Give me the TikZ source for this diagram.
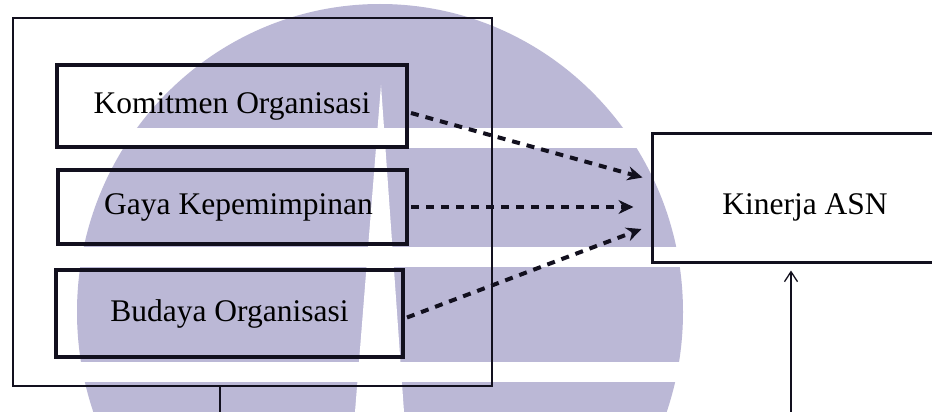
\documentclass[tikz,border=0pt]{standalone}
\usepackage{fontspec}
\setmainfont{Liberation Serif}
\usetikzlibrary{arrows.meta,calc}
\definecolor{wm}{RGB}{187,184,214}
\definecolor{ink}{RGB}{18,16,30}
\begin{document}
\begin{tikzpicture}[x=1pt,y=-1pt,
  lbl/.style={font=\fontsize{31.5}{37}\selectfont},
  inbox/.style={draw=ink, line width=4pt, inner sep=0pt, lbl},
  framebox/.style={draw=ink, line width=1.4pt, inner sep=0pt},
  dasharrow/.style={draw=ink, line width=4pt, dash pattern=on 8pt off 7pt,
    -{Stealth[length=15pt,width=14pt]}},
  thinarrow/.style={draw=ink, line width=1.3pt, -{Straight Barb[length=10pt,width=13pt]}}]
% canvas
\fill[white] (0,0) rectangle (932,412);
\useasboundingbox (0,0) rectangle (932,412);
% watermark
\begin{scope}
  \clip (0,0) rectangle (932,412);
  \fill[wm] (380,312) ellipse [x radius=303, y radius=308];
  \fill[white] (0,128) rectangle (932,148);
  \fill[white] (0,247) rectangle (932,267);
  \fill[white] (0,362) rectangle (932,382);
  \fill[white] (381,85) -- (355,412) -- (404,412) -- cycle;
\end{scope}
% outer frame
\node[framebox, minimum width=479pt, minimum height=368pt] (outer) at (252.5,202) {};
% inner boxes
\node[inbox, minimum width=350pt, minimum height=82pt] (kom) at (232,106) {Komitmen Organisasi};
\node[inbox, minimum width=349pt, minimum height=74pt] (gaya) at (232.5,207) {\hspace*{12pt}Gaya Kepemimpinan};
\node[inbox, minimum width=347pt, minimum height=87pt] (bud) at (229.5,313.5) {Budaya Organisasi};
% target box (extends past the right edge)
\node[draw=ink, line width=3pt, inner sep=0pt, lbl, minimum width=308pt, minimum height=129pt] (kin) at (806,197.5) {\hspace*{-2pt}\raisebox{-17pt}[0pt][0pt]{Kinerja ASN}};
% dashed arrows
\draw[dasharrow] ($(kom.east)+(2,7)$) -- ($(kin.west)+(-8,-20)$);
\draw[dasharrow] ($(gaya.east)+(2,0)$) -- ($(kin.west)+(-17,9.5)$);
\draw[dasharrow] ($(bud.east)+(2,4)$) -- ($(kin.west)+(-9,31.5)$);
% bottom connectors
\coordinate (bl) at (220,412);
\coordinate (br) at (791,412);
\draw[draw=ink, line width=1.3pt] (outer.south -| bl) -- (bl);
\draw[thinarrow, shorten >=7pt] (br) -- (kin.south -| br);
\end{tikzpicture}
\end{document}
